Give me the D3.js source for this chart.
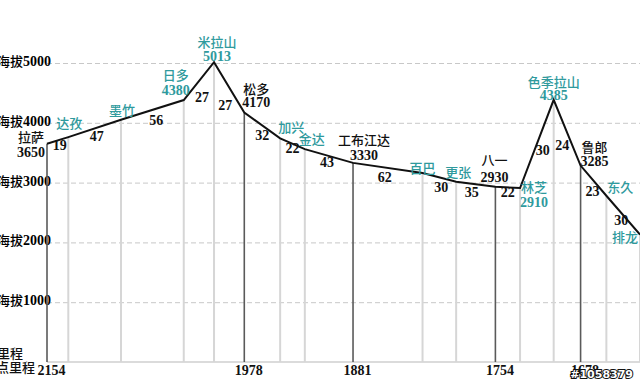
<!DOCTYPE html>
<html>
<head>
<meta charset="utf-8">
<script src="https://cdn.jsdelivr.net/npm/d3@7"></script>
<style>
  body { margin: 0; background: #fff; }
  svg { display: block; }
  .num { font-family: "Liberation Serif", serif; font-weight: bold; font-size: 14px; }
  .cjk { font-family: "Noto Sans CJK SC", sans-serif; font-size: 13px; font-weight: 500; }
</style>
</head>
<body>
<div id="chart"></div>
<script>
// stations along the road, west to east
const stations = ["拉萨", "达孜", "墨竹", "日多", "米拉山", "松多", "加兴", "金达", "工布江达",
  "百巴", "更张", "八一", "林芝", "色季拉山", "鲁郎", "东久", "排龙"];
// km between consecutive stations
const segmentKm = [19, 47, 56, 27, 27, 32, 22, 43, 62, 30, 35, 22, 30, 24, 23, 30];
// elevation (m)
const elevation = [3650, 3760, 4050, 4380, 5013, 4170, 3740, 3560, 3330,
  3160, 3015, 2930, 2910, 4385, 3285, 2780, 2130];
const elevShown = [1, 0, 0, 1, 1, 1, 0, 0, 1, 0, 0, 1, 1, 1, 1, 0, 0];
// mileage marks (null = none)
const mileage = [2154, null, null, null, null, 1978, null, null, 1881,
  null, null, 1754, null, null, 1678, null, null];
const yTicks = [1000, 2000, 3000, 4000, 5000];

const W = 640, H = 384;
const teal = "#2f9a9d";

// label nudges (px)
const nameOff = [[-16,-2],[1,-9],[1,-5],[-8,-20],[3,-15],[12,-19],[11,-6],[7,-5],[11,-18],
  [0,0],[2,-5],[-1,-22],[14,4],[0,-13],[14,-14],[14,-4],[-15,7]];
const elevGap = [15,15,15,15,14,13,15,15,15,15,15,17,15,13,14,15,15];
const segOff = [[2,10],[2,13],[4,15],[3,21],[-4,23],[0,15],[0,9],[-2,11],[-3,14],
  [2,15],[-4,13],[0,10],[6,11],[-5,17],[-1,15],[-2,10]];

const cum = [0];
segmentKm.forEach((d, i) => cum.push(cum[i] + d));

const x = d3.scaleLinear().domain([0, d3.sum(segmentKm)]).range([47, 640]);
const y = d3.scaleLinear().domain([0, 5000]).range([362, 63]);

const svg = d3.select("#chart").append("svg")
  .attr("width", W).attr("height", H);

// dashed gridlines
svg.append("g")
  .attr("transform", "translate(47,0)")
  .call(d3.axisLeft(y).tickValues(yTicks).tickSize(-(W - 47)).tickFormat(""))
  .call(g => g.select(".domain").remove())
  .call(g => g.selectAll("line").attr("stroke", "#c8c8c8").attr("stroke-dasharray", "5,3"));

// y labels
yTicks.forEach(t => {
  const tx = svg.append("text").attr("x", 51).attr("y", y(t) + 3).attr("text-anchor", "end");
  tx.append("tspan").attr("class", "cjk").attr("font-weight", "bold").text("海拔");
  tx.append("tspan").attr("class", "num").text(t);
});

// baseline
svg.append("line")
  .attr("x1", x(0)).attr("x2", W).attr("y1", y(0)).attr("y2", y(0))
  .attr("stroke", "#cfcfcf").attr("stroke-width", 1.5);

// verticals from profile down to base
svg.selectAll("line.v")
  .data(stations)
  .enter()
  .append("line")
  .attr("class", "v")
  .attr("x1", (d, i) => x(cum[i])).attr("x2", (d, i) => x(cum[i]))
  .attr("y1", (d, i) => y(elevation[i])).attr("y2", y(0))
  .attr("stroke", (d, i) => mileage[i] ? "#5a5a5a" : "#d6d6d6")
  .attr("stroke-width", (d, i) => mileage[i] ? 1.6 : 2);

// profile
const line = d3.line().x((d, i) => x(cum[i])).y(d => y(d));
svg.append("path")
  .datum(elevation)
  .attr("d", line)
  .attr("fill", "none")
  .attr("stroke", "#111")
  .attr("stroke-width", 2);

// station names
svg.selectAll("text.name")
  .data(stations)
  .enter()
  .append("text")
  .attr("class", "cjk name")
  .attr("text-anchor", "middle")
  .attr("x", (d, i) => x(cum[i]) + nameOff[i][0])
  .attr("y", (d, i) => y(elevation[i]) + nameOff[i][1])
  .attr("fill", (d, i) => mileage[i] ? "#111" : teal)
  .attr("font-weight", (d, i) => mileage[i] ? "bold" : 500)
  .text(d => d);

// elevation values
svg.selectAll("text.elev")
  .data(stations.map((d, i) => i).filter(i => elevShown[i]))
  .enter()
  .append("text")
  .attr("class", "num elev")
  .attr("text-anchor", "middle")
  .attr("x", i => x(cum[i]) + nameOff[i][0])
  .attr("y", i => y(elevation[i]) + nameOff[i][1] + elevGap[i])
  .attr("fill", i => mileage[i] ? "#111" : teal)
  .text(i => elevation[i]);

// segment km
svg.selectAll("text.seg")
  .data(segmentKm)
  .enter()
  .append("text")
  .attr("class", "num seg")
  .attr("text-anchor", "middle")
  .attr("fill", "#111")
  .attr("x", (d, i) => (x(cum[i]) + x(cum[i + 1])) / 2 + segOff[i][0])
  .attr("y", (d, i) => (y(elevation[i]) + y(elevation[i + 1])) / 2 + segOff[i][1])
  .text(d => d);

// mileage axis
const majors = mileage.map((m, i) => m ? i : -1).filter(i => i >= 0);
svg.append("g")
  .attr("transform", "translate(4," + y(0) + ")")
  .call(d3.axisBottom(x).tickValues(majors.map(i => cum[i])).tickSize(0).tickPadding(3)
    .tickFormat((d, k) => mileage[majors[k]]))
  .call(g => g.select(".domain").remove())
  .call(g => g.selectAll("text").attr("class", "num").attr("fill", "#111").attr("dy", "0.72em"));

// left captions (clipped by the frame edge)
svg.append("text").attr("class", "cjk").attr("font-weight", "bold").attr("font-size", 12)
  .attr("x", 23).attr("y", 358).attr("text-anchor", "end").attr("fill", "#111").text("路段里程");
svg.append("text").attr("class", "cjk").attr("font-weight", "bold").attr("font-size", 12)
  .attr("x", 35).attr("y", 372).attr("text-anchor", "end").attr("fill", "#111").text("距起点里程");

// watermark
svg.append("text")
  .attr("x", 633).attr("y", 378).attr("text-anchor", "end")
  .attr("font-family", "DejaVu Sans").attr("font-weight", "bold").attr("font-size", 11)
  .attr("fill", "#fff").attr("stroke", "#111").attr("stroke-width", 2)
  .attr("paint-order", "stroke")
  .text("#1058379");
</script>
</body>
</html>
